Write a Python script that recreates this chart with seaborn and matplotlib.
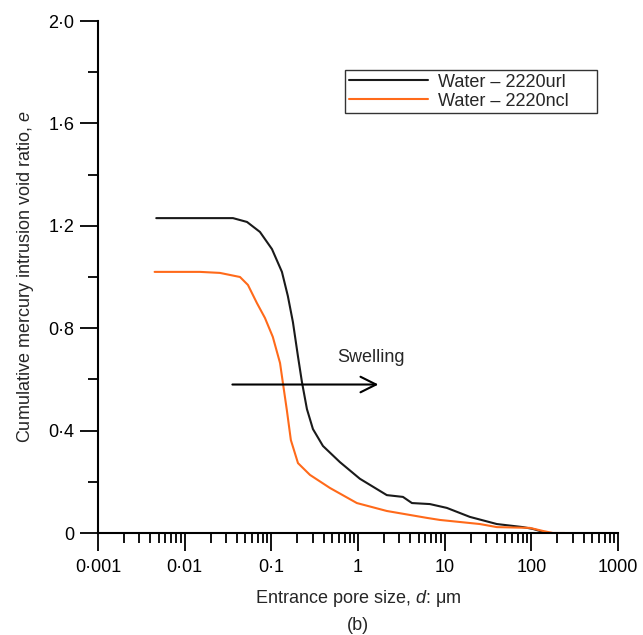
import numpy as np
import pandas as pd
import matplotlib
matplotlib.use("Agg")
import matplotlib.pyplot as plt
import matplotlib.ticker as mticker
import seaborn as sns

# data
d_url = [0.0047, 0.0361, 0.0524, 0.0739, 0.1017, 0.1325, 0.155, 0.1774, 0.2027, 0.2254,
         0.2575, 0.302, 0.394, 0.618, 1.05, 2.15, 3.30, 4.19, 6.75, 10.6, 19.5, 40, 80,
         104, 151, 172]
e_url = [1.23, 1.23, 1.215, 1.176, 1.109, 1.020, 0.926, 0.824, 0.691, 0.590,
         0.484, 0.406, 0.340, 0.277, 0.212, 0.148, 0.141, 0.117, 0.113, 0.098, 0.063, 0.035, 0.023,
         0.016, 0.0, 0.0]
d_ncl = [0.0045, 0.015, 0.0255, 0.0435, 0.0537, 0.0682, 0.0844, 0.104, 0.126, 0.136,
         0.151, 0.168, 0.203, 0.279, 0.474, 0.97, 2.15, 6.24, 8.8, 25.5, 40, 96, 136, 177, 243]
e_ncl = [1.02, 1.02, 1.016, 1.0, 0.969, 0.898, 0.840, 0.766, 0.664, 0.586,
         0.480, 0.363, 0.273, 0.227, 0.176, 0.117, 0.086, 0.059, 0.051, 0.035, 0.023, 0.020, 0.008, 0.0, 0.0]
labels = ["Water – 2220url", "Water – 2220ncl"]
colors = ["#1a1a1a", "#ff6a1a"]
x_ticks = [0.001, 0.01, 0.1, 1, 10, 100, 1000]
x_ticklabels = ["0·001", "0·01", "0·1", "1", "10", "100", "1000"]
y_ticks = [0, 0.4, 0.8, 1.2, 1.6, 2.0]
y_ticklabels = ["0", "0·4", "0·8", "1·2", "1·6", "2·0"]

df = pd.concat([
    pd.DataFrame({"d": d_url, "e": e_url, "series": labels[0]}),
    pd.DataFrame({"d": d_ncl, "e": e_ncl, "series": labels[1]}),
])

sns.set_style("ticks")
plt.rcParams["font.family"] = ["Liberation Sans", "DejaVu Sans"]
plt.rcParams["mathtext.fontset"] = "custom"
plt.rcParams["mathtext.it"] = "Liberation Sans:italic"
plt.rcParams["mathtext.rm"] = "Liberation Sans"

FS = 13

fig = plt.figure(figsize=(6.43, 6.35), dpi=100)
ax = fig.add_axes([98/643, 1-533/635, 520/643, 512/635])

sns.lineplot(data=df, x="d", y="e", hue="series", palette=colors, sort=False,
             estimator=None, linewidth=1.5, ax=ax)

ax.set_xscale("log")
ax.set_xlim(0.001, 1000)
ax.set_ylim(0, 2.0)
ax.set_xticks(x_ticks)
ax.set_xticklabels(x_ticklabels)
ax.xaxis.set_minor_locator(mticker.LogLocator(base=10, subs=np.arange(2, 10)))
ax.xaxis.set_minor_formatter(mticker.NullFormatter())
ax.set_yticks(y_ticks)
ax.set_yticklabels(y_ticklabels)
ax.yaxis.set_minor_locator(mticker.MultipleLocator(0.2))

for s in ["top", "right"]:
    ax.spines[s].set_visible(False)
for s in ["left", "bottom"]:
    ax.spines[s].set_linewidth(1.5)
    ax.spines[s].set_color("black")
ax.spines["left"].set_bounds(0, 2.0)

ax.tick_params(axis="both", which="major", direction="out", length=13, width=1.3,
               labelsize=FS, color="black", labelcolor="black")
ax.tick_params(axis="x", which="major", pad=6)
ax.tick_params(axis="y", which="major", pad=4)
ax.tick_params(axis="both", which="minor", direction="out", length=7, width=1.3, color="black")

ax.set_xlabel("Entrance pore size, $d$: μm", fontsize=FS, labelpad=8.5)
ax.set_ylabel("Cumulative mercury intrusion void ratio, $e$", fontsize=FS, labelpad=9)
fig.text((98 + 520 * 0.5) / 643, 1 - 626/635, "(b)", ha="center", va="center", fontsize=FS)

ax.annotate("", xy=(1.85, 0.58), xytext=(0.033, 0.58),
            arrowprops=dict(arrowstyle="->", lw=1.5, color="black", mutation_scale=28))
ax.text(0.57, 0.685, "Swelling", ha="left", va="center", fontsize=FS)

leg = ax.legend(title=None, loc="upper left", bbox_to_anchor=(0.475, 0.824, 0.485, 0.08),
                mode="expand", frameon=True, fancybox=False, fontsize=FS, handlelength=4.4,
                borderpad=0.2, labelspacing=0.1, handletextpad=0.55, borderaxespad=0)
leg.get_frame().set_edgecolor("black")
leg.get_frame().set_linewidth(1.0)

fig.savefig("out.png", dpi=100)
